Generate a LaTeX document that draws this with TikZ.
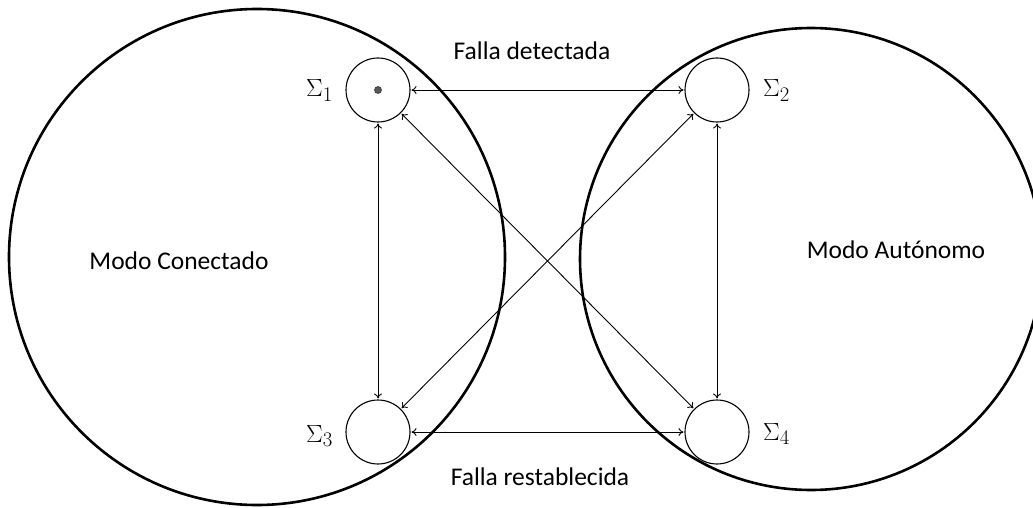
\documentclass[tikz,border=0pt]{standalone}
\usepackage{fontspec}
\setmainfont{Carlito}
\usetikzlibrary{arrows.meta}
\begin{document}
\begin{tikzpicture}[x=1pt,y=-1pt,
  big/.style={draw, line width=2.6pt, circle, minimum size=#1, inner sep=0pt},
  state/.style={draw, line width=1.1pt, circle, minimum size=64pt, inner sep=0pt},
  conn/.style={line width=0.9pt, {To[length=5pt,width=8pt]}-{To[length=5pt,width=8pt]}, shorten <=1pt, shorten >=1pt},
  lbl/.style={font=\fontsize{25.5}{30}\selectfont, inner sep=0pt, anchor=base},
  sig/.style={font=\fontsize{28}{34}\selectfont, inner sep=0pt}]
\clip (0,0) rectangle (1033,508);
% mode regions
\node[big=496pt] (L) at (257,257) {};
\node[big=462pt] (R) at (811,259) {};
% states
\node[state] (S1) at (378,90) {};
\node[state] (S2) at (717,90) {};
\node[state] (S3) at (378,432) {};
\node[state] (S4) at (717,432) {};
\node[circle, fill=black!65, draw=black!80, line width=0.6pt, minimum size=7pt, inner sep=0pt] (dot) at (S1.center) {};
% state labels
\node[sig, anchor=base east] (l1) at (333,97) {$\Sigma_1$};
\node[sig, anchor=base west] (l2) at (763,97) {$\Sigma_2$};
\node[sig, anchor=base east] (l3) at (333,442) {$\Sigma_3$};
\node[sig, anchor=base west] (l4) at (763,440) {$\Sigma_4$};
% connectors
\draw[conn] (S1) -- (S2);
\draw[conn] (S3) -- (S4);
\draw[conn] (S1) -- (S3);
\draw[conn] (S2) -- (S4);
\draw[conn] (S1) -- (S4);
\draw[conn] (S2) -- (S3);
% texts
\node[lbl] (t1) at (532,60) {Falla detectada};
\node[lbl] (t2) at (540,485) {Falla restablecida};
\node[lbl] (t3) at (179,269) {Modo Conectado};
\node[lbl] (t4) at (896,258) {Modo Autónomo};
\end{tikzpicture}
\end{document}
